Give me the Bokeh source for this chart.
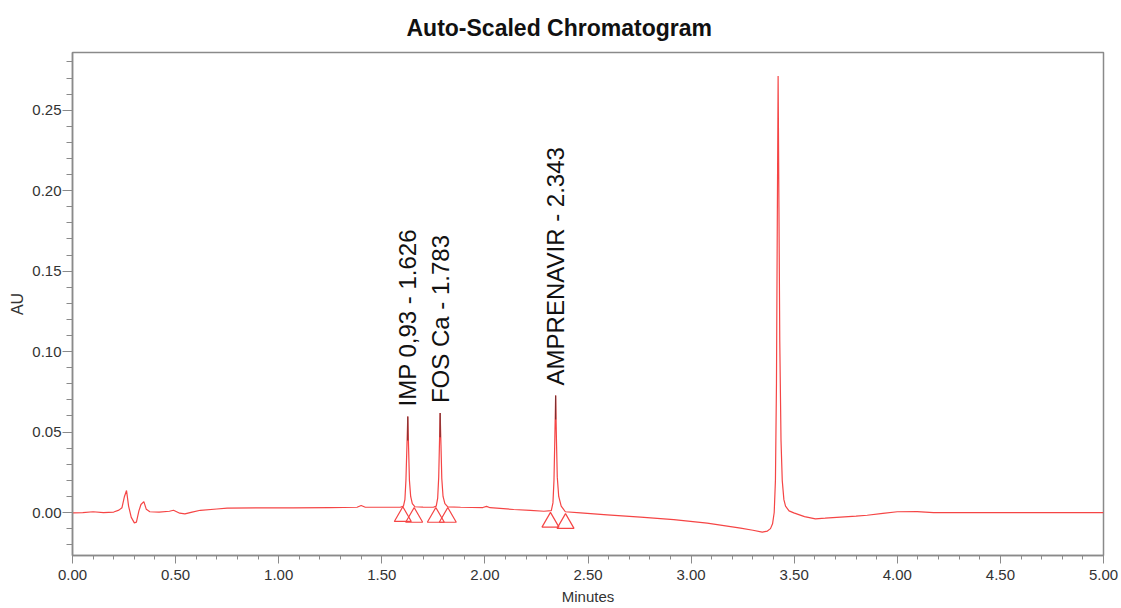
import numpy as np
from bokeh.plotting import figure
from bokeh.models import Range1d, FixedTicker, PrintfTickFormatter
from bokeh.core.properties import value
from bokeh.embed import file_html
from bokeh.resources import INLINE

# ---------------- data ----------------
title_text = "Auto-Scaled Chromatogram"
x_label = "Minutes"
y_label = "AU"

time_min = [
    0.000, 0.050, 0.100, 0.150, 0.200, 0.225, 0.240, 0.252, 0.262, 0.272,
    0.285, 0.300, 0.310, 0.322, 0.332, 0.346, 0.358, 0.375, 0.420, 0.470,
    0.490, 0.520, 0.545, 0.580, 0.620, 0.700, 0.750, 0.900, 1.070, 1.250,
    1.380, 1.400, 1.420, 1.500,
    1.590, 1.605, 1.612, 1.617, 1.622, 1.626, 1.630, 1.634, 1.640, 1.648, 1.660,
    1.700,
    1.750, 1.764, 1.771, 1.776, 1.780, 1.783, 1.787, 1.791, 1.797, 1.806, 1.820,
    1.882, 1.990, 2.008, 2.025, 2.140, 2.220, 2.286,
    2.322, 2.330, 2.335, 2.339, 2.343, 2.347, 2.351, 2.358, 2.370, 2.390,
    2.464, 2.593, 2.755, 2.916, 3.078, 3.240, 3.300, 3.345,
    3.370, 3.385, 3.395, 3.403, 3.409, 3.414, 3.418, 3.422, 3.426, 3.430,
    3.436, 3.442, 3.450, 3.458, 3.475, 3.498, 3.550, 3.603, 3.650, 3.725,
    3.800, 3.854, 3.930, 4.000, 4.096, 4.176, 4.300, 4.500, 4.800, 5.000,
]
absorbance = [
    -0.0002, 0.0000, 0.0005, 0.0000, 0.0003, 0.0015, 0.0030, 0.0100, 0.0137, 0.0040,
    -0.0030, -0.0064, -0.0060, 0.0010, 0.0050, 0.0068, 0.0020, 0.0005, 0.0003, 0.0008,
    0.0014, -0.0004, -0.0008, 0.0003, 0.0014, 0.0022, 0.0027, 0.0029, 0.0029, 0.0031,
    0.0033, 0.0044, 0.0033, 0.0033,
    0.0033, 0.0040, 0.0080, 0.0200, 0.0420, 0.0597, 0.0400, 0.0200, 0.0100, 0.0055, 0.0036,
    0.0034,
    0.0033, 0.0040, 0.0090, 0.0220, 0.0450, 0.0618, 0.0420, 0.0210, 0.0100, 0.0055, 0.0035,
    0.0033, 0.0031, 0.0038, 0.0030, 0.0019, 0.0013, 0.0008,
    0.0012, 0.0060, 0.0200, 0.0450, 0.0728, 0.0450, 0.0220, 0.0100, 0.0040, 0.0005,
    -0.0002, -0.0014, -0.0029, -0.0044, -0.0066, -0.0097, -0.0110, -0.0122,
    -0.0115, -0.0100, -0.0070, 0.0000, 0.0200, 0.0800, 0.1800, 0.2713, 0.1900, 0.1070,
    0.0450, 0.0200, 0.0080, 0.0040, 0.0010, -0.0002, -0.0025, -0.0039, -0.0035, -0.0028,
    -0.0022, -0.0017, -0.0005, 0.0005, 0.0006, 0.0000, -0.0001, -0.0001, 0.0000, 0.0000,
]

peak_names = ["IMP 0,93 - 1.626", "FOS Ca - 1.783", "AMPRENAVIR - 2.343"]
peak_rt = [1.626, 1.783, 2.343]
peak_apex = [0.0597, 0.0618, 0.0728]

# baseline start / end markers (triangles)
marker_time = [1.602, 1.657, 1.762, 1.820, 2.318, 2.391]
marker_au = [-0.0025, -0.0030, -0.0030, -0.0030, -0.0060, -0.0068]

x_major_ticks = [0.0, 0.5, 1.0, 1.5, 2.0, 2.5, 3.0, 3.5, 4.0, 4.5, 5.0]
x_minor_ticks = [round(i / 10, 1) for i in range(0, 51)]
y_major_ticks = [0.0, 0.05, 0.10, 0.15, 0.20, 0.25]
y_minor_ticks = [round(i / 100, 2) for i in range(-2, 29)]

# ---------------- styling ----------------
TRACE = "#f54545"
AXIS = "#8a8a8a"
FONT = "Liberation Sans"

p = figure(
    width=1121, height=608,
    x_range=Range1d(0, 5), y_range=Range1d(-0.0267, 0.2859),
    output_backend="svg", toolbar_location=None,
    min_border_left=72, min_border_right=18, min_border_top=52, min_border_bottom=53,
)
p.xgrid.visible = False
p.ygrid.visible = False
p.outline_line_color = AXIS
p.outline_line_width = 1.5
p.background_fill_color = "white"

p.line(time_min, absorbance, line_color=TRACE, line_width=1.2)
p.segment(x0=peak_rt, y0=peak_apex, x1=peak_rt, y1=[a - 0.015 for a in peak_apex],
          line_color="#7a3030", line_width=1.2)
p.scatter(marker_time, marker_au, marker="triangle", size=17,
          fill_color=None, line_color=TRACE, line_width=1.2)
p.text(x=peak_rt, y=peak_apex, text=peak_names, angle=np.pi / 2,
       text_align="left", text_baseline="middle", y_offset=-10,
       text_font=value(FONT), text_font_size="24px", text_color="#111111")

for ax in (p.xaxis[0], p.yaxis[0]):
    ax.axis_line_color = AXIS
    ax.axis_line_width = 1.5
    ax.major_tick_line_color = AXIS
    ax.minor_tick_line_color = AXIS
    ax.major_label_text_font = FONT
    ax.major_label_text_font_size = "15px"
    ax.major_label_text_color = "#333333"
    ax.axis_label_text_font = FONT
    ax.axis_label_text_font_style = "normal"
    ax.axis_label_text_color = "#333333"
    ax.formatter = PrintfTickFormatter(format="%.2f")

p.xaxis.ticker = FixedTicker(ticks=x_major_ticks, minor_ticks=x_minor_ticks)
p.yaxis.ticker = FixedTicker(ticks=y_major_ticks, minor_ticks=y_minor_ticks)

p.xaxis.axis_label = x_label
p.xaxis.axis_label_text_font_size = "15px"
p.xaxis.major_tick_in = 0
p.xaxis.major_tick_out = 8
p.xaxis.minor_tick_in = 0
p.xaxis.minor_tick_out = 4
p.xaxis.major_label_standoff = 6
p.xaxis.axis_label_standoff = 5

p.yaxis.axis_label = y_label
p.yaxis.axis_label_text_font_size = "16px"
p.yaxis.major_tick_in = 0
p.yaxis.major_tick_out = 10
p.yaxis.minor_tick_in = 0
p.yaxis.minor_tick_out = 6
p.yaxis.major_label_standoff = 1
p.yaxis.axis_label_standoff = 3

p.title.text = title_text
p.title.align = "left"
p.title.offset = 334
p.title.standoff = 24
p.title.text_font = FONT
p.title.text_font_size = "23px"
p.title.text_font_style = "bold"
p.title.text_color = "#111111"

open("out.html", "w").write(file_html(p, INLINE))
